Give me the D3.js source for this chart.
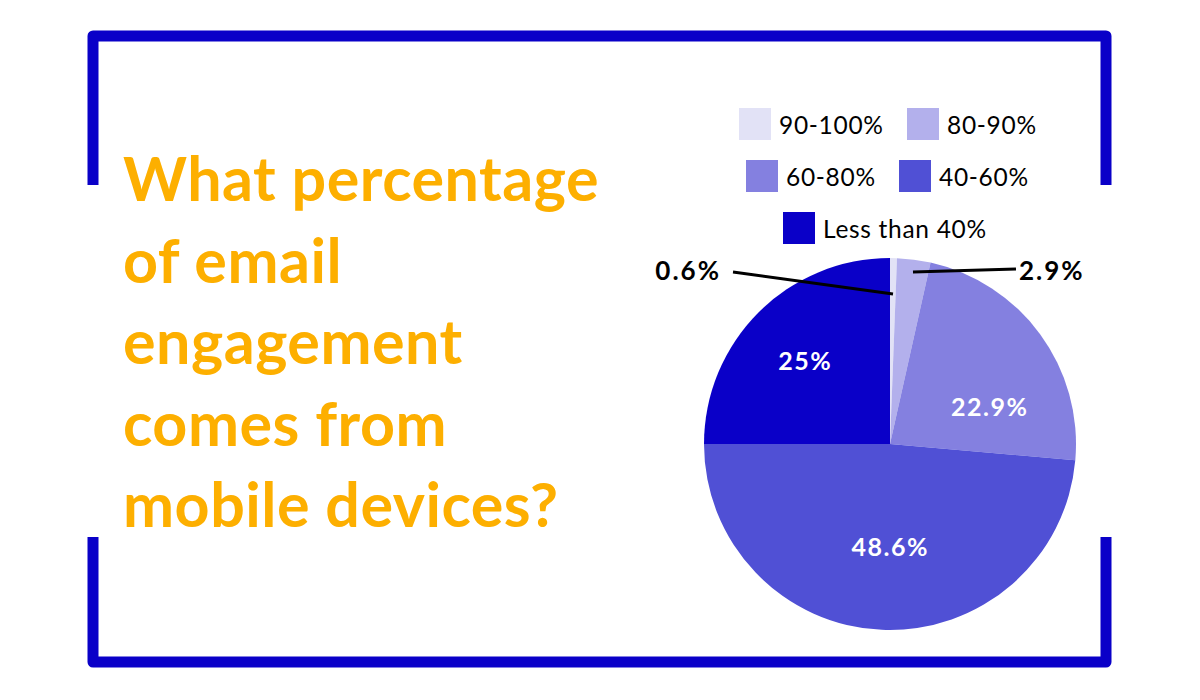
<!DOCTYPE html>
<html><head><meta charset="utf-8">
<script src="https://cdn.jsdelivr.net/npm/d3@7"></script>
<style>body{margin:0;background:#fff}svg{display:block}</style>
</head><body>
<svg id="c" width="1200" height="700"></svg>
<script>
const categories = ["90-100%", "80-90%", "60-80%", "40-60%", "Less than 40%"];
const values = [0.6, 2.9, 22.9, 48.6, 25];
const valueLabels = ["0.6%", "2.9%", "22.9%", "48.6%", "25%"];
const colors = ["#e2e2f6", "#b3b0ec", "#8480e0", "#5050d5", "#0a00c8"];
const titleLines = ["What percentage", "of email", "engagement", "comes from", "mobile devices?"];

const svg = d3.select("#c");
const blue = "#0a00c8";
const font = "Lato, 'Open Sans', sans-serif";

// frame brackets
const fw = 11;
const frame = svg.append("g").attr("fill", "none").attr("stroke", blue).attr("stroke-width", fw).attr("stroke-linejoin", "round");
frame.append("path").attr("d", "M93,185 L93,36 L1106,36 L1106,185");
frame.append("path").attr("d", "M93,537 L93,662 L1106,662 L1106,537");

// title
const title = svg.append("text").attr("font-family", font).attr("font-weight", 700)
  .attr("font-size", 61).attr("letter-spacing", 0.5).attr("fill", "#fdaf00");
titleLines.forEach((t, i) => {
  title.append("tspan").attr("x", 123).attr("y", 201 + i * 81.5).text(t);
});

// pie
const cx = 890, cy = 444, R = 186;
const pie = d3.pie().sort(null).value(d => d)(values);
const arc = d3.arc().innerRadius(0).outerRadius(R);
const g = svg.append("g").attr("transform", `translate(${cx},${cy})`);
g.selectAll("path").data(pie).join("path")
  .attr("d", arc).attr("fill", (d, i) => colors[i]);

// inside labels
const labelArc = d3.arc().innerRadius(110).outerRadius(110);
const nudge = { 2: [11, 27], 3: [5, -8], 4: [-7, -6] };
g.selectAll("text.in").data(pie.filter(d => d.data > 10)).join("text")
  .attr("class", "in")
  .attr("transform", d => { const c = labelArc.centroid(d); const n = nudge[d.index] || [0, 0]; return `translate(${c[0] + n[0]},${c[1] + n[1]})`; })
  .attr("text-anchor", "middle").attr("dominant-baseline", "central")
  .attr("font-family", font).attr("font-weight", 700).attr("font-size", 25).attr("letter-spacing", 1.5).attr("fill", "#fff")
  .text(d => valueLabels[d.index]);

// outside labels with leader lines
const small = pie.filter(d => d.data < 10);
const outer = [
  { line: [[733 - cx, 272 - cy], [893 - cx, 294 - cy]], tx: 721 - cx, ty: 270 - cy, anchor: "end" },
  { line: [[913 - cx, 272 - cy], [1016 - cx, 269 - cy]], tx: 1019 - cx, ty: 270 - cy, anchor: "start" }
];
small.forEach((d, k) => {
  const o = outer[k];
  g.append("path").attr("d", d3.line()(o.line)).attr("stroke", "#000").attr("stroke-width", 3).attr("fill", "none");
  g.append("text").attr("x", o.tx).attr("y", o.ty).attr("text-anchor", o.anchor)
    .attr("dominant-baseline", "central")
    .attr("font-family", font).attr("font-weight", 700).attr("font-size", 26).attr("letter-spacing", 2).attr("fill", "#000")
    .text(valueLabels[d.index]);
});

// legend
const legendPos = [[739, 108], [907, 108], [746, 160], [899, 160], [783, 212]];
const lg = svg.append("g");
categories.forEach((c, i) => {
  const [x, y] = legendPos[i];
  lg.append("rect").attr("x", x).attr("y", y).attr("width", 32).attr("height", 32).attr("fill", colors[i]);
  lg.append("text").attr("x", x + 40).attr("y", y + 16).attr("dominant-baseline", "central")
    .attr("font-family", font).attr("font-size", 24.5).attr("letter-spacing", 0.7).attr("fill", "#000").text(c);
});
</script>
</body></html>
